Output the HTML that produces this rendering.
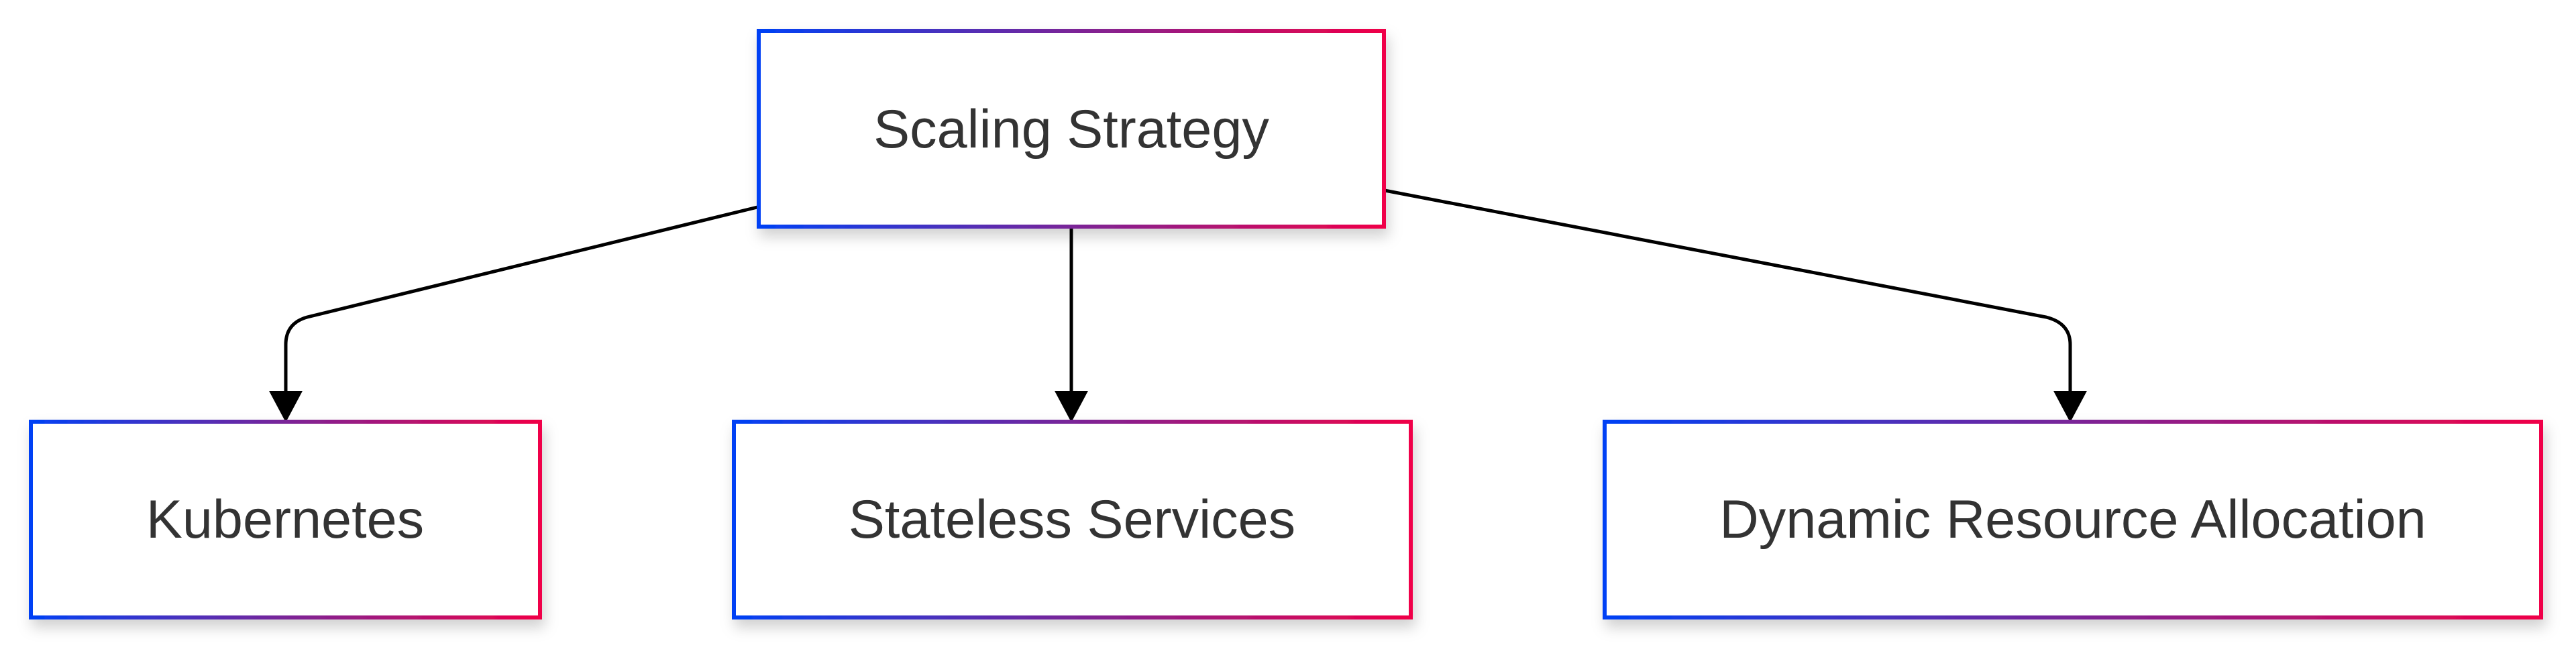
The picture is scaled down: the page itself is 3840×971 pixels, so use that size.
<!DOCTYPE html>
<html><head><meta charset="utf-8"><style>
html,body{margin:0;padding:0;background:#fff;}
body{width:3840px;height:971px;position:relative;overflow:hidden;font-family:"Liberation Sans",Arial,sans-serif;}
svg{position:absolute;left:0;top:0;}
</style></head><body>
<svg width="3840" height="971" viewBox="0 0 3840 971">
<defs>
<linearGradient id="g" x1="0" y1="0" x2="1" y2="0">
<stop offset="0" stop-color="#0041f5"/><stop offset="0.5" stop-color="#7a2598"/><stop offset="1" stop-color="#f00048"/>
</linearGradient>
<filter id="sh" x="-10%" y="-10%" width="120%" height="130%"><feDropShadow dx="4" dy="12" stdDeviation="10" flood-color="#000" flood-opacity="0.18"/></filter>
</defs>
<g fill="none" stroke="#000" stroke-width="5">
<path d="M1129 309 L458 473 Q426 482 426 514 L426 585"/>
<path d="M1597 338 L1597 585"/>
<path d="M2064 284 L3050 473 Q3086 482 3086 514 L3086 585"/>
</g>
<g fill="#000">
<polygon points="401,583 451,583 426,630"/>
<polygon points="1572,583 1622,583 1597,630"/>
<polygon points="3061,583 3111,583 3086,630"/>
</g>
<g fill="#fff" stroke="url(#g)" stroke-width="6" filter="url(#sh)">
<rect x="1131" y="46" width="932" height="292"/>
<rect x="46" y="629" width="759" height="292"/>
<rect x="1094" y="629" width="1009" height="292"/>
<rect x="2392" y="629" width="1396" height="292"/>
</g>
<g fill="#333" font-family="Liberation Sans, Arial, sans-serif" font-size="81" text-anchor="middle">
<text x="1597" y="220">Scaling Strategy</text>
<text x="425" y="802">Kubernetes</text>
<text x="1598" y="802">Stateless Services</text>
<text x="3090" y="802">Dynamic Resource Allocation</text>
</g>
</svg>
</body></html>
